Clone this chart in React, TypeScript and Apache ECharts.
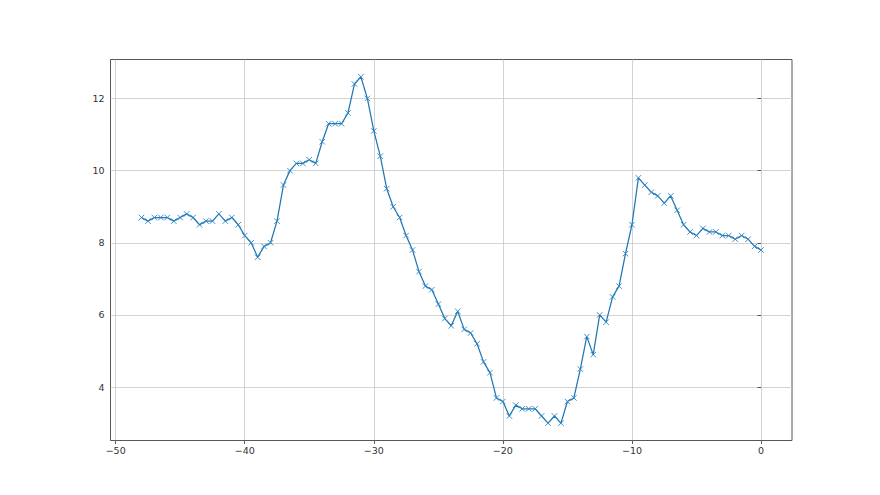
import React, { useEffect, useRef } from "react";
import * as echarts from "echarts";

const xValues: number[] = [
  -48, -47.5, -47, -46.5, -46, -45.5, -45, -44.5, -44, -43.5, -43, -42.5, -42, -41.5, -41, -40.5,
  -40, -39.5, -39, -38.5, -38, -37.5, -37, -36.5, -36, -35.5, -35, -34.5, -34, -33.5, -33, -32.5,
  -32, -31.5, -31, -30.5, -30, -29.5, -29, -28.5, -28, -27.5, -27, -26.5, -26, -25.5, -25, -24.5,
  -24, -23.5, -23, -22.5, -22, -21.5, -21, -20.5, -20, -19.5, -19, -18.5, -18, -17.5, -17, -16.5,
  -16, -15.5, -15, -14.5, -14, -13.5, -13, -12.5, -12, -11.5, -11, -10.5, -10, -9.5, -9, -8.5,
  -8, -7.5, -7, -6.5, -6, -5.5, -5, -4.5, -4, -3.5, -3, -2.5, -2, -1.5, -1, -0.5, 0,
];

const yValues: number[] = [
  8.7, 8.6, 8.7, 8.7, 8.7, 8.6, 8.7, 8.8, 8.7, 8.5, 8.6, 8.6, 8.8, 8.6, 8.7, 8.5,
  8.2, 8.0, 7.6, 7.9, 8.0, 8.6, 9.6, 10.0, 10.2, 10.2, 10.3, 10.2, 10.8, 11.3, 11.3, 11.3,
  11.6, 12.4, 12.6, 12.0, 11.1, 10.4, 9.5, 9.0, 8.7, 8.2, 7.8, 7.2, 6.8, 6.7, 6.3, 5.9,
  5.7, 6.1, 5.6, 5.5, 5.2, 4.7, 4.4, 3.7, 3.6, 3.2, 3.5, 3.4, 3.4, 3.4, 3.2, 3.0,
  3.2, 3.0, 3.6, 3.7, 4.5, 5.4, 4.9, 6.0, 5.8, 6.5, 6.8, 7.7, 8.5, 9.8, 9.6, 9.4,
  9.3, 9.1, 9.3, 8.9, 8.5, 8.3, 8.2, 8.4, 8.3, 8.3, 8.2, 8.2, 8.1, 8.2, 8.1, 7.9, 7.8,
];

const xTicks: number[] = [-50, -40, -30, -20, -10, 0];
const yTicks: number[] = [4, 6, 8, 10, 12];

const fmt = (v: number) => (v < 0 ? "\u2212" + Math.abs(v) : String(v));

export default function App() {
  const ref = useRef<HTMLDivElement>(null);
  useEffect(() => {
    if (!ref.current) return;
    const chart = echarts.init(ref.current, undefined, { renderer: "svg" });
    const labelStyle = {
      color: "#333",
      fontSize: 9.5,
      fontFamily: "DejaVu Sans",
    };
    chart.setOption({
      animation: false,
      backgroundColor: "#ffffff",
      grid: {
        left: 110.5,
        right: 88,
        top: 59.5,
        bottom: 54.5,
        show: true,
        borderColor: "#444",
        borderWidth: 0.9,
        backgroundColor: "transparent",
      },
      xAxis: {
        type: "value",
        min: -50.4,
        max: 2.4,
        axisLine: { show: false },
        axisTick: {
          show: true,
          length: 3.5,
          lineStyle: { color: "#333", width: 0.8 },
          customValues: xTicks,
        },
        axisLabel: {
          ...labelStyle,
          margin: 5,
          customValues: xTicks,
          formatter: (v: number) => fmt(v),
        },
        splitLine: { show: true, lineStyle: { color: "#c8c8c8", width: 0.8 } },
      },
      yAxis: {
        type: "value",
        min: 2.52,
        max: 13.08,
        axisLine: { show: false },
        axisTick: {
          show: true,
          length: 3.5,
          lineStyle: { color: "#333", width: 0.8 },
          customValues: yTicks,
        },
        axisLabel: {
          ...labelStyle,
          margin: 6,
          customValues: yTicks,
          formatter: (v: number) => fmt(v),
        },
        splitLine: { show: true, lineStyle: { color: "#c8c8c8", width: 0.8 } },
      },
      series: [
        {
          type: "line",
          data: xValues.map((x, i) => [x, yValues[i]]),
          lineStyle: { color: "#1f77b4", width: 1.25 },
          symbol: "path://M0,0L10,10M10,0L0,10",
          symbolSize: 5.5,
          showAllSymbol: true,
          itemStyle: { color: "rgba(0,0,0,0)", borderColor: "#2b84c4", borderWidth: 0.9 },
          emphasis: { disabled: true },
          z: 3,
        },
      ],
    });
    return () => chart.dispose();
  }, []);
  return <div ref={ref} style={{ width: 880, height: 495, margin: -8 }} />;
}
